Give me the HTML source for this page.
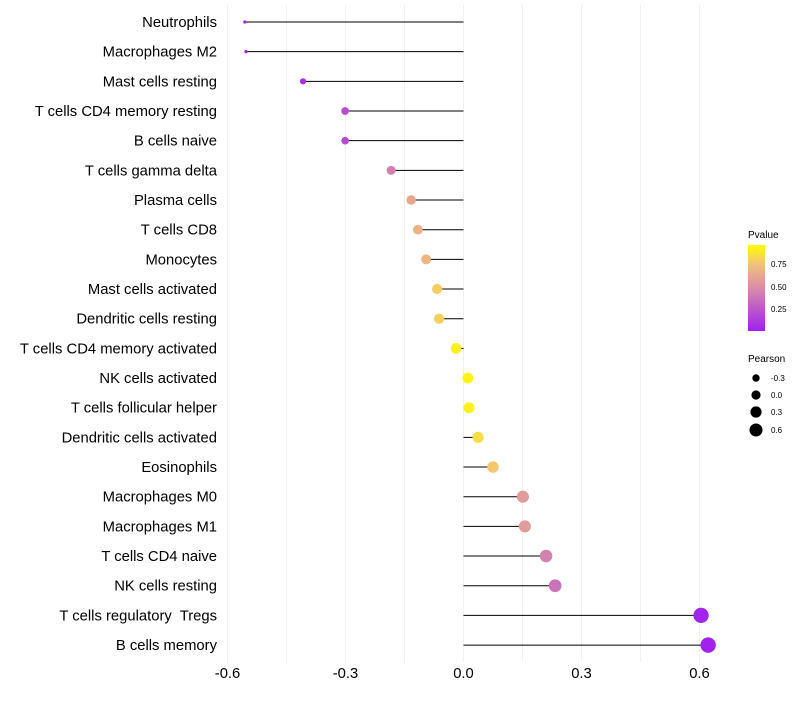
<!DOCTYPE html>
<html><head><meta charset="utf-8"><style>
body{margin:0;background:#fff;font-family:"Liberation Sans",sans-serif}
text{white-space:pre}
</style></head><body>
<svg id="chart" width="800" height="700" xmlns="http://www.w3.org/2000/svg" font-family="Liberation Sans, sans-serif">
<defs><linearGradient id="pg" x1="0" y1="1" x2="0" y2="0">
<stop offset="0" stop-color="#A020F0"/><stop offset="0.5" stop-color="#D98CA8"/><stop offset="0.78" stop-color="#F2C27A"/><stop offset="1" stop-color="#FFFF00"/></linearGradient></defs>
<g id="grid"></g><g id="marks"></g><g id="labels"></g>
<g>
<text x="748" y="238" font-size="10">Pvalue</text>
<rect x="748" y="245" width="17" height="86" fill="url(#pg)"/>
<text x="771" y="267" font-size="8">0.75</text><text x="771" y="290" font-size="8">0.50</text><text x="771" y="312" font-size="8">0.25</text>
</g>
<g>
<text x="748" y="362" font-size="10">Pearson</text>
<circle cx="756" cy="378" r="3.7"/><text x="771" y="381" font-size="8">-0.3</text>
<circle cx="756" cy="395" r="4.6"/><text x="771" y="398" font-size="8">0.0</text>
<circle cx="756" cy="412" r="5.6"/><text x="771" y="415" font-size="8">0.3</text>
<circle cx="756" cy="430" r="6.5"/><text x="771" y="433" font-size="8">0.6</text>
</g>
</svg>
<script>
const categories=["Neutrophils","Macrophages M2","Mast cells resting","T cells CD4 memory resting","B cells naive","T cells gamma delta","Plasma cells","T cells CD8","Monocytes","Mast cells activated","Dendritic cells resting","T cells CD4 memory activated","NK cells activated","T cells follicular helper","Dendritic cells activated","Eosinophils","Macrophages M0","Macrophages M1","T cells CD4 naive","NK cells resting","T cells regulatory  Tregs","B cells memory"];
const pearson=[-0.556,-0.553,-0.408,-0.301,-0.301,-0.184,-0.133,-0.116,-0.095,-0.067,-0.062,-0.019,0.011,0.014,0.037,0.075,0.151,0.156,0.210,0.233,0.604,0.622];
const pvalue=[0.01,0.01,0.08,0.2,0.2,0.45,0.65,0.7,0.72,0.82,0.83,0.95,0.96,0.95,0.88,0.8,0.58,0.58,0.45,0.38,0.02,0.01];
const ticks=[-0.6,-0.3,0.0,0.3,0.6];
const tickLabels=["-0.6","-0.3","0.0","0.3","0.6"];
const NS="http://www.w3.org/2000/svg";
const x=v=>463.5+v*393.3;
const y=i=>22+i*29.67;
const rad=v=>Math.sqrt(Math.max(1,2.6+(v+0.556)*48));
function col(p){const st=[[0,[160,32,240]],[0.5,[217,140,168]],[0.78,[242,194,122]],[1,[255,255,0]]];
for(let k=0;k<st.length-1;k++){const a=st[k],b=st[k+1];if(p<=b[0]){const t=(p-a[0])/(b[0]-a[0]);return "rgb("+a[1].map((c,j)=>Math.round(c+(b[1][j]-c)*t)).join(",")+")";}}return "rgb(255,255,0)";}
function mk(t,a,p){const e=document.createElementNS(NS,t);for(const k in a)e.setAttribute(k,a[k]);p.appendChild(e);return e;}
const grid=document.getElementById("grid"),marks=document.getElementById("marks"),labels=document.getElementById("labels");
for(let v=-0.6;v<=0.61;v+=0.15){const g=mk("line",{x1:x(v),x2:x(v),y1:5,y2:662,stroke:"#f0f0f0","stroke-width":1},grid);

}
ticks.forEach((t,i)=>{const e=mk("text",{x:x(t),y:678,"font-size":14.8,"text-anchor":"middle",fill:"#000"},labels);e.textContent=tickLabels[i];

});
categories.forEach((c,i)=>{const e=mk("text",{x:217,y:y(i)+5,"font-size":14.8,"text-anchor":"end",fill:"#000"},labels);e.textContent=c;


const l=mk("line",{x1:x(0),x2:x(pearson[i]),y1:y(i),y2:y(i),stroke:"#000","stroke-width":1},marks);


const d=mk("circle",{cx:x(pearson[i]),cy:y(i),r:rad(pearson[i]),fill:col(pvalue[i])},marks);

});
</script>
</body></html>
